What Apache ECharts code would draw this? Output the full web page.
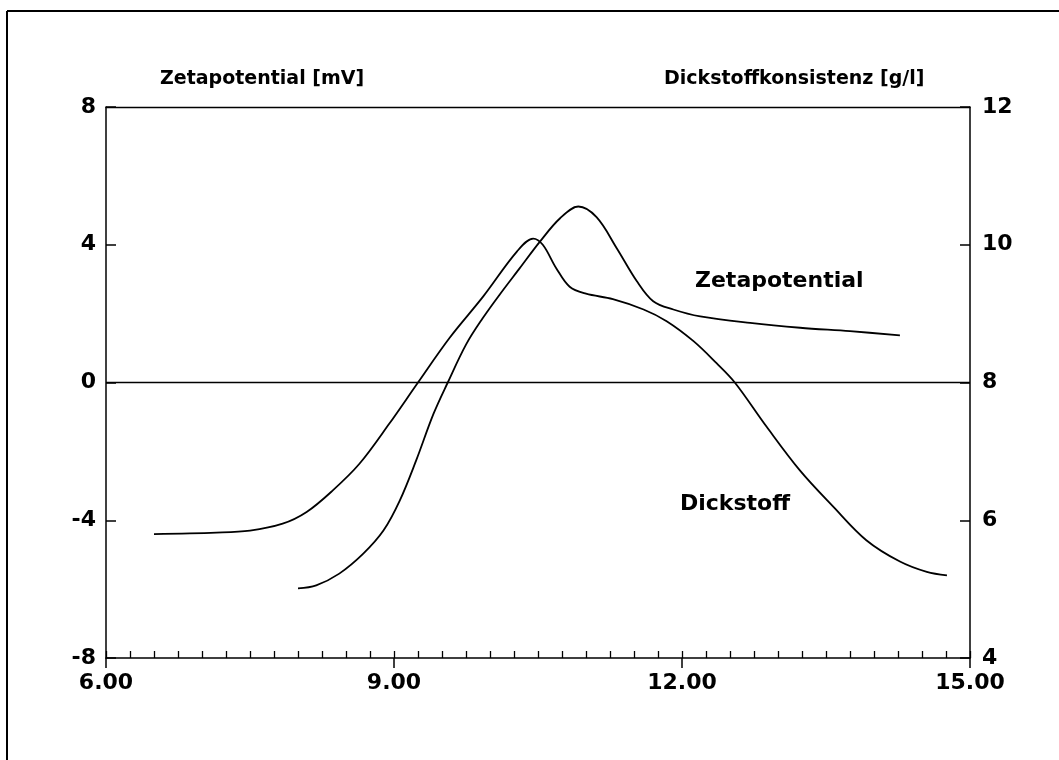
<!DOCTYPE html>
<html>
<head>
<meta charset="utf-8">
<script src="https://cdn.jsdelivr.net/npm/echarts@6/dist/echarts.min.js"></script>
<style>
html,body{margin:0;padding:0;background:#fff;}
#chart{width:1059px;height:760px;}
</style>
</head>
<body>
<div id="chart"></div>
<script>
// ---- data ----
var zetaX = [8.00, 8.19, 8.43, 8.68, 8.89, 9.06, 9.23, 9.41, 9.56, 9.75, 9.92, 10.10, 10.31, 10.52, 10.73, 10.92, 11.11, 11.32, 11.53, 11.70, 11.91, 12.19, 12.71, 13.23, 13.75, 14.27];
var zetaY = [-5.98, -5.89, -5.55, -4.97, -4.30, -3.43, -2.27, -0.92, 0.00, 1.10, 1.85, 2.55, 3.32, 4.09, 4.77, 5.11, 4.80, 3.90, 2.94, 2.36, 2.12, 1.92, 1.73, 1.59, 1.49, 1.37];
var dickX = [6.50, 7.15, 7.50, 7.84, 8.09, 8.36, 8.64, 8.95, 9.25, 9.58, 9.93, 10.28, 10.45, 10.55, 10.69, 10.83, 11.00, 11.28, 11.60, 11.84, 12.12, 12.36, 12.55, 12.88, 13.23, 13.58, 13.92, 14.27, 14.55, 14.76];
var dickY = [5.80, 5.82, 5.85, 5.95, 6.12, 6.43, 6.82, 7.40, 8.00, 8.65, 9.25, 9.90, 10.09, 10.00, 9.66, 9.39, 9.29, 9.21, 9.06, 8.89, 8.60, 8.28, 8.00, 7.36, 6.72, 6.19, 5.71, 5.40, 5.25, 5.20];
var leftTitle = 'Zetapotential [mV]';
var rightTitle = 'Dickstoffkonsistenz [g/l]';
var zetaLabel = 'Zetapotential';
var dickLabel = 'Dickstoff';

function pairs(xs, ys){ return xs.map(function(x,i){ return [x, ys[i]]; }); }

var FONT = 'DejaVu Sans';
var INK = '#000';
var G = {left:106, right:89, top:107, height:551};

var chart = echarts.init(document.getElementById('chart'), null, {renderer:'canvas'});
chart.setOption({
  backgroundColor:'#fff',
  animation:false,
  textStyle:{fontFamily:FONT, color:INK},
  graphic:[
    {type:'line', shape:{x1:7, y1:11, x2:7, y2:760}, style:{stroke:INK, lineWidth:2}},
    {type:'line', shape:{x1:7, y1:11, x2:1059, y2:11}, style:{stroke:INK, lineWidth:2}}
  ],
  title:[
    {text:leftTitle, left:160, top:70, padding:0, textStyle:{fontFamily:FONT, fontSize:19, fontWeight:'bold', color:INK}},
    {text:rightTitle, left:664, top:70, padding:0, textStyle:{fontFamily:FONT, fontSize:19, fontWeight:'bold', color:INK}},
    {text:zetaLabel, left:695, top:270, padding:0, textStyle:{fontFamily:FONT, fontSize:22, fontWeight:'bold', color:INK}},
    {text:dickLabel, left:680, top:493, padding:0, textStyle:{fontFamily:FONT, fontSize:22, fontWeight:'bold', color:INK}}
  ],
  grid:[
    {left:G.left, right:G.right, top:G.top, height:G.height},
    {left:G.left, right:G.right, top:G.top, height:G.height}
  ],
  xAxis:[
    {type:'value', gridIndex:0, position:'bottom', min:6, max:15, interval:0.25,
     axisLine:{show:true, onZero:false, lineStyle:{color:INK, width:1.5}},
     axisTick:{show:true, inside:true, length:7, lineStyle:{color:INK, width:1.3}},
     axisLabel:{show:false}, splitLine:{show:false}},
    {type:'value', gridIndex:0, position:'top', min:6, max:15, interval:3,
     axisLine:{show:true, onZero:false, lineStyle:{color:INK, width:1.3}},
     axisTick:{show:false}, axisLabel:{show:false}, splitLine:{show:false}},
    {type:'value', gridIndex:1, position:'bottom', min:6, max:15, interval:3,
     axisLine:{show:false, onZero:false},
     axisTick:{show:true, inside:false, length:10, lineStyle:{color:INK, width:1.5}},
     axisLabel:{show:true, margin:14, fontFamily:FONT, fontSize:22, fontWeight:'bold', color:INK,
       formatter:function(v){ return v.toFixed(2); }},
     splitLine:{show:false}}
  ],
  yAxis:[
    {type:'value', gridIndex:0, position:'left', min:-8, max:8, interval:4,
     axisLine:{show:true, onZero:false, lineStyle:{color:INK, width:1.5}},
     axisTick:{show:true, inside:true, length:10, lineStyle:{color:INK, width:1.5}},
     axisLabel:{show:true, margin:10, fontFamily:FONT, fontSize:22, fontWeight:'bold', color:INK},
     splitLine:{show:false}},
    {type:'value', gridIndex:0, position:'right', min:4, max:12, interval:2,
     axisLine:{show:true, onZero:false, lineStyle:{color:INK, width:1.5}},
     axisTick:{show:true, inside:true, length:10, lineStyle:{color:INK, width:1.5}},
     axisLabel:{show:true, margin:12, fontFamily:FONT, fontSize:22, fontWeight:'bold', color:INK},
     splitLine:{show:false}},
    {type:'value', gridIndex:1, min:-8, max:8, show:false}
  ],
  series:[
    {name:zetaLabel, type:'line', xAxisIndex:0, yAxisIndex:0, data:pairs(zetaX, zetaY),
     smooth:0.35, showSymbol:false, symbol:'none', lineStyle:{color:INK, width:1.8},
     markLine:{silent:true, symbol:'none', label:{show:false},
       lineStyle:{color:INK, width:1.3, type:'solid'}, data:[{yAxis:0}]}},
    {name:dickLabel, type:'line', xAxisIndex:0, yAxisIndex:1, data:pairs(dickX, dickY),
     smooth:0.35, showSymbol:false, symbol:'none', lineStyle:{color:INK, width:1.8}}
  ]
});
</script>
</body>
</html>
